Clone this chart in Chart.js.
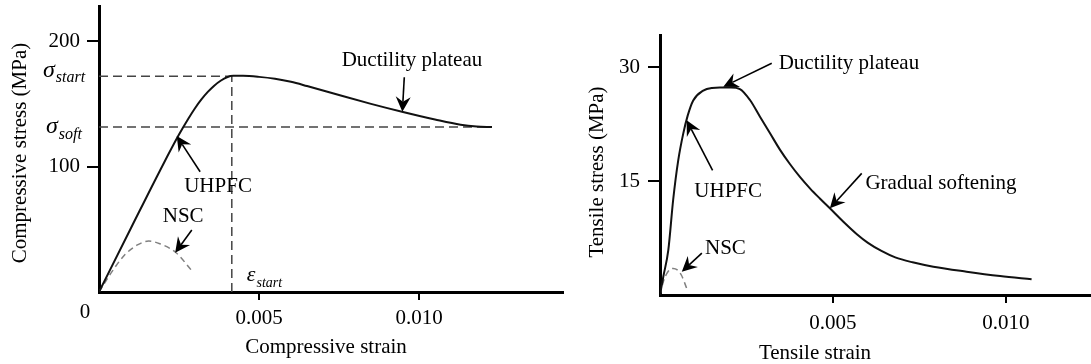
<!DOCTYPE html>
<html>
<head>
<meta charset="utf-8">
<script src="https://cdn.jsdelivr.net/npm/chart.js@4.4.1/dist/chart.umd.min.js"></script>
<style>
  html, body { margin: 0; padding: 0; background: #fff; }
  #wrap { position: relative; width: 1091px; height: 364px; overflow: hidden; }
  canvas { position: absolute; top: 0; }
  #compChart { left: 0; }
  #tensChart { left: 575px; }
</style>
</head>
<body>
<div id="wrap">
  <canvas id="compChart" width="575" height="364"></canvas>
  <canvas id="tensChart" width="516" height="364"></canvas>
</div>
<script>
// ---- compressive side (strain, MPa) ----
const compStrainTicks = [0.005, 0.010];
const compStressTicks = [100, 200];

const uhpfcCompStrain = [0, 0.001, 0.002, 0.0025, 0.0028, 0.003, 0.0032, 0.0034, 0.0036, 0.0038, 0.004, 0.0042, 0.0045, 0.005, 0.0055, 0.006, 0.0065, 0.0075, 0.0085, 0.0095, 0.0105, 0.0113, 0.0118, 0.01228];
const uhpfcCompStress = [0, 51, 101.5, 125.5, 138.5, 146.5, 153.5, 159.5, 164.5, 168.4, 171.2, 172.3, 172.3, 171.5, 170, 167.6, 164.2, 157, 150, 143.5, 137.5, 133.3, 131.9, 131.5];

const nscCompStrain = [0, 0.0004, 0.0008, 0.0012, 0.00155, 0.0019, 0.0024, 0.0029];
const nscCompStress = [0, 16, 29.5, 37.5, 40.6, 38.5, 31.5, 17];

const sigmaStart = 172;
const sigmaSoft = 131.5;
const epsStart = 0.00415;
const softEndStrain = 0.01228;

// ---- tensile side (strain, MPa) ----
const tensStrainTicks = [0.005, 0.010];
const tensStressTicks = [15, 30];

const uhpfcTensStrain = [0, 0.000095, 0.00024, 0.00038, 0.00053, 0.00067, 0.0008, 0.00096, 0.00125, 0.0015, 0.00173, 0.00205, 0.00231, 0.0026, 0.00289, 0.00318, 0.00347, 0.00376, 0.00405, 0.00434, 0.00462, 0.00491, 0.0053, 0.00569, 0.006, 0.0064, 0.0068, 0.0073, 0.0079, 0.00886, 0.00983, 0.01074];
const uhpfcTensStress = [0, 2.4, 5.9, 12.5, 17.8, 21.2, 23.6, 25.6, 26.9, 27.25, 27.3, 27.3, 27.1, 25.66, 23.46, 21.28, 19.1, 17.2, 15.5, 14.0, 12.7, 11.41, 9.64, 8.0, 6.9, 5.8, 4.95, 4.3, 3.72, 3.07, 2.5, 2.07];

const nscTensStrain = [0, 0.0001, 0.00022, 0.00038, 0.0005, 0.00062, 0.00077];
const nscTensStress = [0, 1.8, 3.0, 3.5, 3.3, 2.6, 0.9];

const SERIF = '"Liberation Serif", "Times New Roman", serif';
Chart.defaults.font.family = SERIF;
Chart.defaults.font.size = 21;
Chart.defaults.color = '#000';

const toXY = (xs, ys) => xs.map((x, i) => ({ x: x, y: ys[i] }));

function drawArrow(ctx, x1, y1, x2, y2) {
  const ang = Math.atan2(y2 - y1, x2 - x1);
  const len = 15, half = 7.5, notch = 5;
  ctx.save();
  ctx.strokeStyle = '#000';
  ctx.fillStyle = '#000';
  ctx.lineWidth = 1.6;
  ctx.beginPath();
  ctx.moveTo(x1, y1);
  ctx.lineTo(x2 - Math.cos(ang) * (len - notch), y2 - Math.sin(ang) * (len - notch));
  ctx.stroke();
  ctx.translate(x2, y2);
  ctx.rotate(ang);
  ctx.beginPath();
  ctx.moveTo(0, 0);
  ctx.lineTo(-len, -half);
  ctx.lineTo(-len + notch, 0);
  ctx.lineTo(-len, half);
  ctx.closePath();
  ctx.fill();
  ctx.restore();
}

// main symbol + italic subscript, x is left edge of symbol
function drawSub(ctx, main, sub, x, y, mainSize, subSize, dy) {
  ctx.save();
  ctx.fillStyle = '#000';
  ctx.textBaseline = 'middle';
  ctx.textAlign = 'left';
  ctx.font = 'italic ' + mainSize + 'px ' + SERIF;
  ctx.fillText(main, x, y);
  const w = ctx.measureText(main).width;
  ctx.font = 'italic ' + subSize + 'px ' + SERIF;
  ctx.fillText(sub, x + w + 1, y + dy);
  ctx.restore();
}

function drawText(ctx, text, x, y, rot) {
  ctx.save();
  ctx.fillStyle = '#000';
  ctx.font = '21px ' + SERIF;
  ctx.textAlign = 'center';
  ctx.textBaseline = 'middle';
  ctx.translate(x, y);
  if (rot) ctx.rotate(rot);
  ctx.fillText(text, 0, 0);
  ctx.restore();
}

// notes: texts and arrows in data coordinates
const notesPlugin = {
  id: 'notes',
  afterDatasetsDraw(chart, args, opts) {
    const ctx = chart.ctx;
    const xs = chart.scales.x, ys = chart.scales.y;
    const px = v => xs.getPixelForValue(v);
    const py = v => ys.getPixelForValue(v);
    (opts.texts || []).forEach(t => drawText(ctx, t.text, px(t.x), py(t.y)));
    (opts.arrows || []).forEach(a => drawArrow(ctx, px(a[0]), py(a[1]), px(a[2]), py(a[3])));
    if (opts.extra) opts.extra(chart, ctx, px, py);
  }
};

function axes(xMax, yMax, xTicks, yTicks, yWidth, xHeight, yPad, xPad) {
  return {
    x: {
      type: 'linear', min: 0, max: xMax,
      afterBuildTicks: s => { s.ticks = xTicks.map(v => ({ value: v })); },
      afterFit: s => { s.height = xHeight; s.paddingLeft = 0; s.paddingRight = 0; },
      border: { display: true, color: '#000', width: 3 },
      grid: { display: true, drawOnChartArea: false, drawTicks: true, tickLength: 8, color: '#000', lineWidth: 2 },
      ticks: { padding: xPad, maxRotation: 0, autoSkip: false, callback: v => v.toFixed(3) }
    },
    y: {
      type: 'linear', min: 0, max: yMax,
      afterBuildTicks: s => { s.ticks = yTicks.map(v => ({ value: v })); },
      afterFit: s => { s.width = yWidth; s.paddingTop = 0; s.paddingBottom = 0; },
      border: { display: true, color: '#000', width: 3 },
      grid: { display: true, drawOnChartArea: false, drawTicks: true, tickLength: 12, color: '#000', lineWidth: 2 },
      ticks: { padding: yPad, autoSkip: false }
    }
  };
}

const solid = { borderColor: '#111', borderWidth: 2, cubicInterpolationMode: 'monotone' };
const nscStyle = { borderColor: '#808080', borderWidth: 1.5, borderDash: [6, 4], cubicInterpolationMode: 'monotone' };
const guide = { borderColor: '#444', borderWidth: 1.5, borderDash: [9, 5] };

new Chart(document.getElementById('compChart'), {
  type: 'line',
  data: {
    datasets: [
      Object.assign({ label: 'UHPFC', data: toXY(uhpfcCompStrain, uhpfcCompStress) }, solid),
      Object.assign({ label: 'NSC', data: toXY(nscCompStrain, nscCompStress) }, nscStyle),
      Object.assign({ label: 'sigma start', data: [{ x: 0, y: sigmaStart }, { x: epsStart, y: sigmaStart }] }, guide),
      Object.assign({ label: 'sigma soft', data: [{ x: 0, y: sigmaSoft }, { x: softEndStrain, y: sigmaSoft }] }, guide),
      Object.assign({ label: 'eps start', data: [{ x: epsStart, y: 0 }, { x: epsStart, y: sigmaStart }] }, guide)
    ]
  },
  options: {
    responsive: false,
    animation: false,
    devicePixelRatio: 1,
    layout: { padding: { left: 0, top: 6, right: 12, bottom: 0 } },
    elements: { point: { radius: 0 } },
    plugins: {
      legend: { display: false },
      tooltip: { enabled: false },
      notes: {
        texts: [
          { text: 'Ductility plateau', x: 0.00978, y: 184.9 },
          { text: 'UHPFC', x: 0.00372, y: 83.9 },
          { text: 'NSC', x: 0.00263, y: 60 }
        ],
        arrows: [
          [0.00954, 171.2, 0.00948, 143.7],
          [0.00316, 95.9, 0.00243, 124.4],
          [0.0029, 49.4, 0.00238, 31.3]
        ],
        extra: (chart, ctx, px, py) => {
          const a = chart.chartArea;
          drawSub(ctx, 'σ', 'start', a.left - 56, py(sigmaStart) - 6, 24, 16, 8);
          drawSub(ctx, 'σ', 'soft', a.left - 53, py(sigmaSoft), 24, 16, 8);
          drawSub(ctx, 'ε', 'start', px(epsStart) + 15, py(0) - 17, 22, 14, 8);
          drawText(ctx, '0', px(0) - 14, py(0) + 20);
          drawText(ctx, 'Compressive stress (MPa)', 20, (a.top + a.bottom) / 2 + 4, -Math.PI / 2);
          drawText(ctx, 'Compressive strain', a.left + 227, a.bottom + 55);
        }
      }
    },
    scales: axes(0.0145, 228, compStrainTicks, compStressTicks, 99, 72, 7, 6)
  },
  plugins: [notesPlugin]
});

new Chart(document.getElementById('tensChart'), {
  type: 'line',
  data: {
    datasets: [
      Object.assign({ label: 'UHPFC', data: toXY(uhpfcTensStrain, uhpfcTensStress) }, solid),
      Object.assign({ label: 'NSC', data: toXY(nscTensStrain, nscTensStress) }, nscStyle)
    ]
  },
  options: {
    responsive: false,
    animation: false,
    devicePixelRatio: 1,
    layout: { padding: { left: 0, top: 35, right: 0, bottom: 0 } },
    elements: { point: { radius: 0 } },
    plugins: {
      legend: { display: false },
      tooltip: { enabled: false },
      notes: {
        texts: [
          { text: 'Ductility plateau', x: 0.00546, y: 30.4 },
          { text: 'UHPFC', x: 0.00197, y: 13.6 },
          { text: 'NSC', x: 0.00189, y: 6.1 },
          { text: 'Gradual softening', x: 0.00812, y: 14.7 }
        ],
        arrows: [
          [0.00323, 30.5, 0.00183, 27.4],
          [0.00152, 16.4, 0.00077, 23.0],
          [0.00121, 5.5, 0.00063, 3.07],
          [0.00583, 16.0, 0.00491, 11.4]
        ],
        extra: (chart, ctx) => {
          const a = chart.chartArea;
          drawText(ctx, 'Tensile stress (MPa)', 22, (a.top + a.bottom) / 2 + 7, -Math.PI / 2);
          drawText(ctx, 'Tensile strain', a.left + 155, a.bottom + 58);
        }
      }
    },
    scales: axes(0.012457, 34.21, tensStrainTicks, tensStressTicks, 85, 69, 8, 8)
  },
  plugins: [notesPlugin]
});
</script>
</body>
</html>
